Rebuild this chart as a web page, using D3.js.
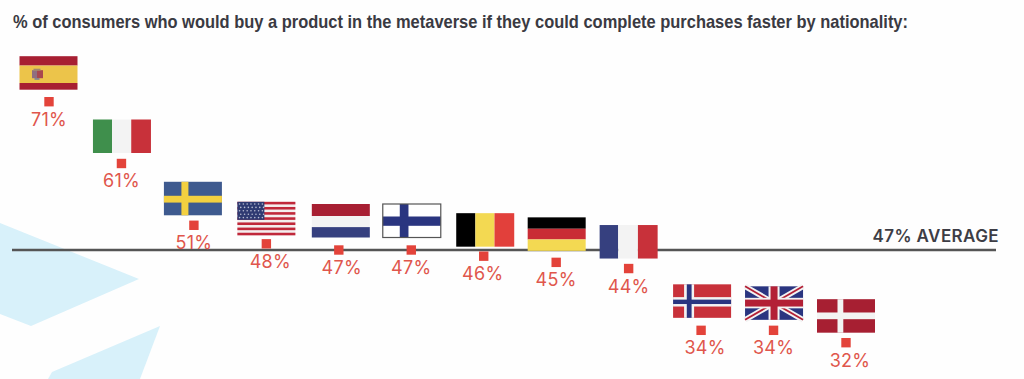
<!DOCTYPE html>
<html><head><meta charset="utf-8">
<script src="https://cdn.jsdelivr.net/npm/d3@7"></script>
<style>html,body{margin:0;padding:0;background:#fff;overflow:hidden}svg{display:block}</style>
</head><body><svg id="c" width="1024" height="379"></svg>
<script>
const titleText = "% of consumers who would buy a product in the metaverse if they could complete purchases faster by nationality:";
const countries = ["Spain","Italy","Sweden","USA","Netherlands","Finland","Belgium","Germany","France","Norway","UK","Denmark"];
const values = [71,61,51,48,47,47,46,45,44,34,34,32];
const average = 47;
const averageLabel = "47% AVERAGE";

// page layout, separate from the data
const W = 1024, H = 379;
const flagW = 58, flagH = 33.5;
const flagDx = [-0.5,0.5,-1,0,2,0.5,1.5,0.5,0,1,0.5,0];
const flagGap = [45.5,44,43.5,42,46,46,43,45,43.5,46,44,43.5];
const labelDx = [0,0,0,4,3,0,-1,0,0,4,0,4];

const x = d3.scalePoint().domain(countries).range([49, 846]);
const y = d3.scaleLinear().domain([average, 71]).range([250, 101.7]);
const svg = d3.select("#c");
svg.append("rect").attr("width",W).attr("height",H).attr("fill","#fefefe");

const line = d3.line();
svg.selectAll("path.bg").data([
  [[0,223],[139,279],[31,326],[0,314]],
  [[160,326],[140,379],[48,379],[52,372]]
]).join("path").attr("class","bg").attr("fill","#d8f1fa").attr("d",d=>line(d)+"Z");

svg.append("text").attr("x",13).attr("y",28)
  .attr("font-family","'Liberation Sans Narrow','Liberation Sans',sans-serif")
  .attr("font-weight",700).attr("font-size",18.6).attr("fill","#3a3a42")
  .attr("textLength",895).attr("lengthAdjust","spacingAndGlyphs").text(titleText);

svg.append("line").attr("x1",12).attr("x2",996).attr("y1",y(average)).attr("y2",y(average))
  .attr("stroke","#555").attr("stroke-width",2.6);
svg.append("text").attr("x",999).attr("y",242).attr("text-anchor","end")
  .attr("font-family","Inter,sans-serif").attr("font-weight",600).attr("font-size",17)
  .attr("letter-spacing",0.4).attr("fill","#3d3d45").text(averageLabel);

const RED="#c8313a", DARK="#a71f32", BLUE="#36407f", NAVY="#2a3580", WHITE="#f3f3f3", YEL="#f3d952";
function R(g,a,b,w,h,f){g.append("rect").attr("x",a).attr("y",b).attr("width",w).attr("height",h).attr("fill",f);}
function vStripes(g,cols,cuts){cols.forEach((c,i)=>R(g,cuts[i]*flagW,0,(cuts[i+1]-cuts[i])*flagW,flagH,c));}
function hStripes(g,cols,cuts){cols.forEach((c,i)=>R(g,0,cuts[i]*flagH,flagW,(cuts[i+1]-cuts[i])*flagH,c));}
function cross(g,col,cx,cw,cy,ch){R(g,cx,0,cw,flagH,col);R(g,0,cy,flagW,ch,col);}
const painters = {
  Spain(g){hStripes(g,[DARK,"#ecc44a",DARK],[0,.28,.8,1]);
    R(g,12.5,14,5,8,"#8f6f80");R(g,17.5,14,6,8,"#a8484f");R(g,14,12.5,7,2,"#a08a70");R(g,15,22,5,1.5,"#6f7aa0");},
  Italy(g){vStripes(g,["#3f8f4c",WHITE,RED],[0,.33,.66,1]);},
  Sweden(g){R(g,0,0,flagW,flagH,"#3e5a8f");cross(g,"#f3d040",17.5,7,14,6.8);},
  USA(g){const n=13,h=flagH/n;R(g,0,0,flagW,flagH,"#f4eeee");
    d3.range(0,n,2).forEach(i=>R(g,0,i*h,flagW,h,"#c0283a"));
    R(g,0,0,27,flagH*7/13,"#2f3a72");
    d3.range(0,5).forEach(r=>d3.range(0,7).forEach(c=>{
      g.append("circle").attr("cx",2.2+c*3.8+(r%2)*1.2).attr("cy",2.2+r*3.4).attr("r",.8).attr("fill","#b9bdd2");}));},
  Netherlands(g){hStripes(g,[DARK,WHITE,BLUE],[0,.36,.69,1]);},
  Finland(g){R(g,0,0,flagW,flagH,"#fff");cross(g,NAVY,17,8.7,12.5,9.3);
    g.append("rect").attr("width",flagW).attr("height",flagH).attr("fill","none").attr("stroke","#555").attr("stroke-width",1.2);},
  Belgium(g){vStripes(g,["#000",YEL,"#e2403b"],[0,.33,.66,1]);},
  Germany(g){hStripes(g,["#000","#c92c35",YEL],[0,.34,.66,1]);},
  France(g){vStripes(g,[BLUE,WHITE,RED],[0,.32,.66,1]);},
  Norway(g){R(g,0,0,flagW,flagH,RED);cross(g,WHITE,11,10,12.8,9.4);cross(g,NAVY,13.7,4.8,15.3,4.4);},
  UK(g){R(g,0,0,flagW,flagH,NAVY);
    const diag=(c,w)=>[[[0,0],[flagW,flagH]],[[flagW,0],[0,flagH]]].forEach(p=>
      g.append("path").attr("d",line(p)).attr("stroke",c).attr("stroke-width",w));
    diag(WHITE,5.5);diag("#b32036",1.8);
    cross(g,WHITE,23.5,11,11.5,10.5);cross(g,"#b32036",25.5,7,13.3,6.9);},
  Denmark(g){R(g,0,0,flagW,flagH,DARK);cross(g,WHITE,20.5,5.8,13.3,6.7);}
};

const item = svg.selectAll("g.item").data(countries).join("g").attr("class","item");
item.each(function(c,i){
  const g=d3.select(this), cx=x(c), cy=y(values[i]);
  const f=g.append("g").attr("transform",`translate(${cx+flagDx[i]-flagW/2},${cy-flagGap[i]})`);
  painters[c](f);
  g.append("rect").attr("x",cx-4.7).attr("y",cy-4.7).attr("width",9.4).attr("height",9.4).attr("fill","#e3433a");
  g.append("text").attr("x",cx+labelDx[i]).attr("y",cy+24).attr("text-anchor","middle")
    .attr("font-family","Inter,sans-serif").attr("font-size",18).attr("letter-spacing",0.3)
    .attr("fill","#e0564c").text(values[i]+"%");
});
</script></body></html>
